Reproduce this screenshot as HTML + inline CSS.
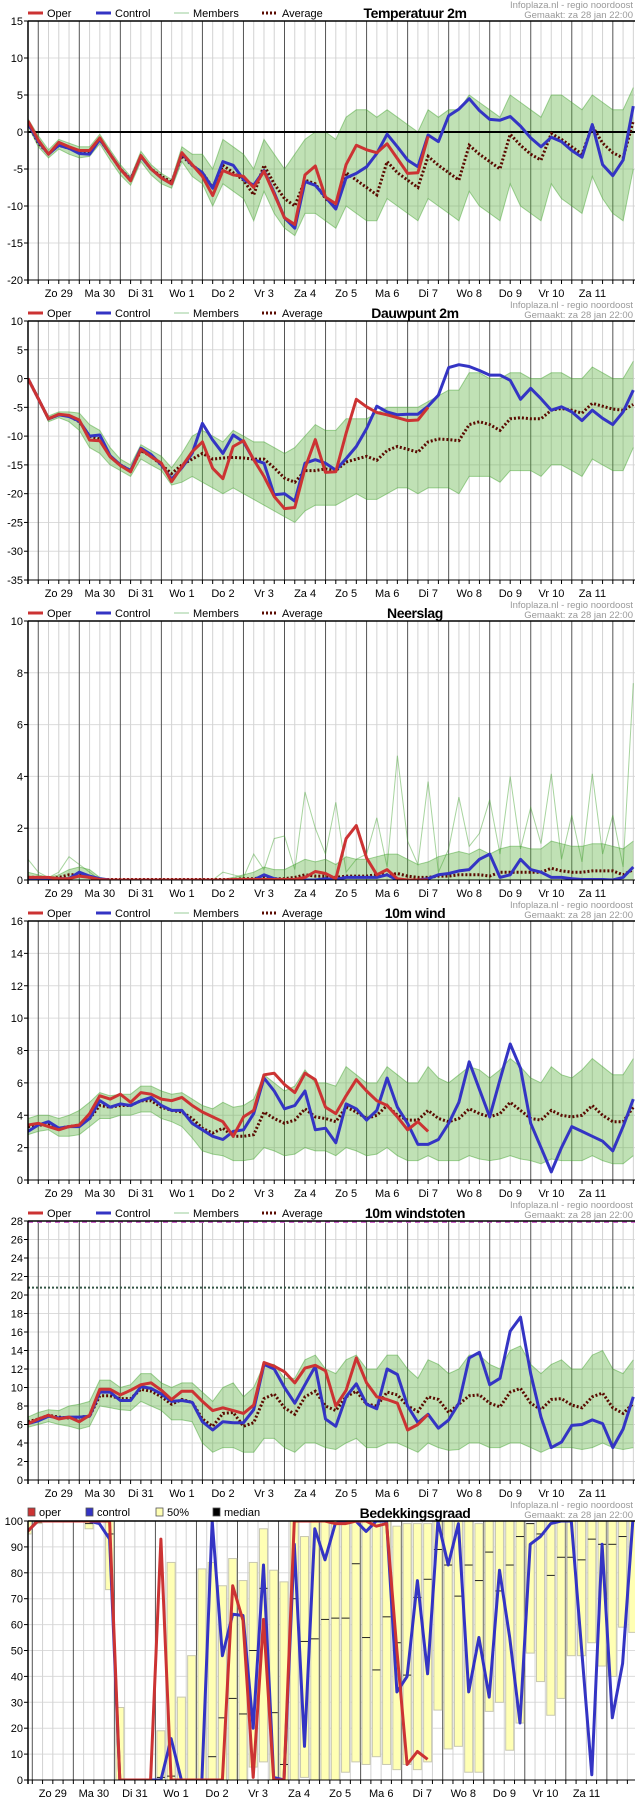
<!DOCTYPE html>
<html><head><meta charset="utf-8"><title>Ensemble pluim</title>
<style>
html,body{margin:0;padding:0;background:#fff;}
svg{display:block;font-family:"Liberation Sans",sans-serif;}
</style></head>
<body>
<svg id="chart" xmlns="http://www.w3.org/2000/svg" width="635" height="1800" viewBox="0 0 635 1800"></svg>
<script>
// ---------- data ----------
const dayLabels = ["Zo 29","Ma 30","Di 31","Wo 1","Do 2","Vr 3","Za 4","Zo 5","Ma 6","Di 7","Wo 8","Do 9","Vr 10","Za 11"];

const tempTicks = [15,10,5,0,-5,-10,-15,-20];
const tempOper = [1.5,-1.1,-3,-1.4,-2,-2.5,-2.5,-0.8,-3,-5,-6.6,-3.2,-5,-6.2,-7,-2.8,-4.4,-6,-8.6,-5.2,-5.8,-6,-7.5,-5.3,-8.4,-11.6,-12.5,-5.8,-4.6,-8.8,-9.7,-4.4,-1.8,-2.4,-2.8,-1.6,-3.6,-5.6,-5.5,-0.6];
const tempControl = [1.2,-1.3,-3,-1.8,-2.2,-2.9,-3,-1,-3,-5,-6.5,-3.3,-5,-6.2,-7,-2.9,-4.5,-5.5,-7.6,-4,-4.5,-6.4,-7.2,-5.2,-8.2,-11.6,-13,-6.7,-7.2,-8.8,-10.4,-6.2,-5.6,-4.7,-2.9,-0.3,-2,-3.8,-4.7,-0.4,-1.3,2.2,3.1,4.5,2.9,1.7,1.6,2.1,0.8,-0.8,-2,-0.7,-1.3,-2.5,-3.4,1,-4.4,-5.9,-3.8,3.5];
const tempAverage = [1.2,-1.5,-2.9,-1.8,-2.2,-2.6,-2.7,-1,-3,-5,-6.4,-3.3,-5,-6,-6.8,-3.2,-4.5,-5.5,-7.5,-4.5,-5.5,-6.5,-8.5,-4.5,-7,-9,-10,-6.5,-7,-9,-10,-5.5,-6.5,-7.5,-8.5,-4,-5.5,-6.5,-7.5,-3.3,-4.5,-5.5,-6.5,-1.8,-3,-4,-5,-0.3,-1.8,-3,-3.8,-0.2,-1,-2,-3,0.8,-1.5,-2.8,-3.5,1.5];
const tempLow = [0.8,-2,-3.5,-2.3,-3,-3.5,-3.3,-1.6,-3.8,-5.8,-7.2,-4,-5.8,-7,-7.6,-4,-6,-7,-10,-7,-8,-9,-12,-8,-11,-13,-14,-11,-11,-12,-13,-10,-11,-12,-12,-9,-10,-11,-12,-9,-10,-11,-12,-8,-10,-11,-12,-7,-10,-11,-12,-7,-9,-10,-11,-6,-9,-11,-12,-5];
const tempHigh = [1.8,-0.5,-2.4,-1,-1.5,-2,-2,-0.3,-2.4,-4.4,-6,-2.6,-4.4,-5.6,-6.4,-2,-3,-3,-5,-1,-2,-3,-5,-1,-3,-5,-3,-1,0,0,-1,2,3,3,2,3,2,1,0,3,2,3,3,5,4,3,2,5,4,3,2,5,5,4,3,5,4,3,3,6];

const dewTicks = [10,5,0,-5,-10,-15,-20,-25,-30,-35];
const dewOper = [0,-3.5,-7,-6.2,-6.4,-7.2,-10.7,-10.8,-13.6,-15.1,-16.2,-12.3,-13.6,-14.7,-17.9,-15.3,-12.7,-11,-15.6,-17.4,-11.8,-10.8,-14.1,-17,-20.5,-22.6,-22.4,-15.6,-10.6,-16.3,-16.2,-9.5,-3.6,-4.9,-5.9,-6.3,-6.8,-7.3,-7.2,-5];
const dewControl = [0,-3.5,-7,-6.3,-6.6,-7.4,-10,-9.8,-13.4,-15,-16,-12.1,-13.2,-15,-17.5,-15.5,-13,-7.8,-10.7,-13,-9.8,-11,-14.1,-14.7,-20.2,-20,-21.3,-14.7,-14.1,-14.7,-15.9,-13.9,-11.8,-8.7,-4.8,-5.8,-6.3,-6.2,-6.2,-4.8,-2.9,1.9,2.4,2.1,1.4,0.6,0.6,-0.3,-3.6,-1.7,-3.5,-5.5,-4.9,-5.8,-7.3,-5.5,-6.9,-8,-5.8,-2];
const dewAverage = [0,-3.5,-7,-6.3,-6.5,-7.5,-10,-10.5,-13.5,-15,-16,-12.5,-13.5,-15,-16.5,-15,-14,-13,-14,-13.8,-13.7,-13.8,-14,-14,-15.5,-17.3,-18,-16,-16,-15.7,-16,-14.5,-14,-13.5,-14.2,-12.5,-11.8,-12.3,-12.8,-11,-10.5,-10.6,-10.8,-8,-7.5,-8,-9,-7,-6.8,-7,-7,-5.5,-5.2,-5.5,-6,-4.3,-4.8,-5.3,-5.5,-4.5];
const dewLow = [0,-3.8,-7.5,-6.8,-7.5,-9,-12,-13,-15,-16,-17,-14,-15,-16,-18.5,-18,-17,-18,-19,-20,-19,-20,-21,-22,-23,-24,-25,-23,-22,-22,-22,-21,-20,-21,-21,-20,-19,-19,-20,-19,-19,-19,-20,-17,-17,-17,-18,-16,-16,-16,-17,-15,-15,-16,-17,-14,-15,-16,-16,-12];
const dewHigh = [0,-3.2,-6.5,-5.8,-5.8,-6,-8,-9,-12,-14,-15,-11.5,-12.5,-13.5,-15.5,-13,-10,-9,-10,-11,-9,-10,-11,-11,-12,-13,-12,-10,-8,-9,-9,-7,-7,-7,-6,-5,-5,-5,-5,-4,-3,-2,-2,1,1,0,0,1,1,0,0,1,1,0,0,2,1,0,0,3];

const rainTicks = [10,8,6,4,2,0];
const rainOper = [0.1,0.1,0.1,0.05,0.05,0.15,0.1,0.02,0,0,0,0,0,0,0,0,0,0,0,0,0.02,0.02,0.02,0.02,0.02,0.02,0.02,0.1,0.33,0.25,0.05,1.6,2.1,0.85,0.2,0.4,0.05,0,0,0];
const rainControl = [0.05,0.05,0,0.05,0.05,0.3,0.15,0.05,0,0,0,0,0,0,0,0,0,0,0,0,0,0,0,0.2,0.05,0,0,0,0,0.05,0.02,0.1,0.1,0.1,0.1,0.2,0,0,0,0.05,0.2,0.25,0.35,0.4,0.8,1.0,0.1,0.2,0.8,0.4,0.3,0.1,0.1,0.05,0.02,0.02,0.02,0,0.1,0.5];
const rainAverage = [0.1,0.1,0.05,0.1,0.2,0.2,0.1,0.02,0.02,0.02,0.02,0.02,0.02,0.02,0.02,0.02,0.02,0.02,0.02,0.02,0.02,0.05,0.05,0.1,0.05,0.05,0.1,0.2,0.15,0.15,0.1,0.15,0.15,0.15,0.2,0.2,0.25,0.15,0.1,0.1,0.15,0.15,0.2,0.2,0.2,0.15,0.3,0.3,0.3,0.3,0.3,0.45,0.35,0.3,0.3,0.35,0.35,0.35,0.2,0.4];
const rainLow = [0,0,0,0,0,0,0,0,0,0,0,0,0,0,0,0,0,0,0,0,0,0,0,0,0,0,0,0,0,0,0,0,0,0,0,0,0,0,0,0,0,0,0,0,0,0,0,0,0,0,0,0,0,0,0,0,0,0,0,0];
const rainHigh = [0.3,0.2,0.1,0.2,0.4,0.5,0.4,0.1,0.02,0.02,0.02,0.02,0.02,0.02,0.02,0.02,0.02,0.02,0.02,0.02,0.1,0.2,0.3,0.5,0.4,0.4,0.6,0.8,0.7,0.8,0.6,0.9,0.8,0.8,0.9,1.0,1.0,0.8,0.6,0.7,0.9,1.0,1.1,1.0,1.2,1.0,1.2,1.3,1.3,1.2,1.2,1.5,1.4,1.3,1.3,1.4,1.4,1.3,1.2,1.5];
const rainMemberA = [0.8,0.3,0.1,0.3,0.9,0.6,0.3,0,0,0,0,0,0,0,0,0,0,0,0,0.3,0.2,0.1,1.0,0.4,1.6,1.7,0.4,3.4,2.0,1.0,3.0,0.3,0.8,1.0,2.4,0.5,4.8,1.5,0.6,3.8,0.3,1.2,3.2,1.3,1.8,3.1,1.0,4.0,1.2,2.8,1.4,4.1,0.8,2.5,0.7,4.1,1.0,2.5,0.5,7.6];

const windTicks = [16,14,12,10,8,6,4,2,0];
const windOper = [3.4,3.5,3.3,3.1,3.3,3.4,4.1,5.2,5,5.3,4.8,5.4,5.3,5,4.9,5.1,4.6,4.2,3.9,3.6,2.7,3.9,4.3,6.5,6.6,5.9,5.4,6.6,6.2,4.5,4.1,5.2,6.2,5.5,4.9,4.6,3.9,3.1,3.6,3];
const windControl = [3.0,3.4,3.6,3.2,3.3,3.3,3.8,4.9,4.5,4.7,4.6,4.9,5.1,4.6,4.3,4.3,3.5,3.1,2.7,2.5,3.0,3.1,4.1,6.3,5.5,4.4,4.6,5.5,3.1,3.2,2.3,4.7,4.4,3.7,4.3,6.3,4.5,3.5,2.2,2.2,2.5,3.5,4.8,7.3,5.6,3.9,6.2,8.4,6.9,3.5,2,0.5,2,3.3,3,2.7,2.4,1.8,3.3,5];
const windAverage = [3.3,3.4,3.4,3.2,3.3,3.4,3.8,4.6,4.5,4.6,4.6,4.9,4.9,4.5,4.3,4.2,3.8,3.2,2.9,3.2,2.7,2.7,2.8,4.2,3.8,3.5,3.7,4.4,3.9,3.8,3.6,4.5,4.2,3.8,4,4.6,4,3.7,3.7,4.3,3.8,3.6,3.8,4.4,4.1,3.9,4.1,4.8,4.3,3.8,3.7,4.3,4,3.9,4,4.6,4,3.6,3.6,4.5];
const windLow = [2.8,3,3.1,2.7,2.7,2.8,3.3,3.8,3.8,4,4,4.2,4.2,3.8,3.6,3.3,2.6,1.8,1.6,1.5,1.2,1.2,1.3,2,1.8,1.5,1.6,2,1.8,1.8,1.5,2,1.8,1.5,1.6,2,1.5,1.2,1.2,1.5,1.2,1.2,1.2,1.5,1.3,1.2,1.3,1.5,1.3,1.2,1,1.3,1.2,1.2,1.2,1.5,1.2,1,1,1.5];
const windHigh = [3.8,4,4,3.8,4,4.3,4.8,5.4,5.2,5.3,5.3,5.8,5.8,5.5,5.3,5.4,5,4.6,4.4,4.8,4.5,4.6,5,6.5,6,5.5,5.8,6.8,6,6,5.8,7,6.5,6,6,7,6.5,6,6,7,6.3,6,6.5,7,6.8,6.3,6.8,7.5,7,6.3,6,7,6.5,6.3,6.8,7.5,7,6.5,6.5,7.5];

const gustTicks = [28,26,24,22,20,18,16,14,12,10,8,6,4,2,0];
const gustOper = [6.1,6.6,7,6.6,6.8,6.3,7,9.8,9.8,9.2,9.7,10.3,10.5,9.7,8.7,9.6,9.6,8.5,7.5,7.8,7.5,7.2,8.1,12.7,12.3,11.7,10.5,12.1,12.4,11.8,8,9.7,13.2,10.5,9,8.7,8.3,5.4,6,7.1];
const gustControl = [6.1,6.4,6.9,6.7,6.8,6.8,6.9,9.5,9.5,8.6,8.6,10.1,9.9,9.3,8.5,8.6,8.4,6.3,5.4,6.3,6.2,6.2,7.6,12.5,12,10,8.3,10.3,12.3,6.6,5.8,9,10.4,8.2,7.7,12,11.4,8,6.2,7.1,5.6,6.5,8.3,13.2,13.8,10.3,11,16.1,17.6,11.5,6.8,3.5,4.1,5.9,6,6.5,6.1,3.5,5.5,9];
const gustAverage = [6.3,6.6,7,6.8,6.7,6.8,6.9,9.1,9.1,8.8,8.8,9.8,9.6,9,8.2,8.7,8.4,6.6,5.8,7.2,7.3,5.8,6.2,8.8,9.3,7.8,7.1,9,9.6,8,7.5,9,9.6,8.2,8,9.5,9.2,8,7.4,9,8.7,7.3,8.2,9.1,9.2,8.3,7.9,9.5,9.9,8.3,7.6,8.7,8.8,8.1,7.8,9,9.4,7.8,7.2,8.3];
const gustLow = [5.7,6,6.3,6,5.8,5.5,5.8,8,7.8,7.6,7.5,8.5,8,7.5,6.5,6.5,6.3,4,3,3.5,3.5,3,3,4.5,4.5,3.5,3,4,4,3.5,3.3,4,4.5,3.5,3.5,4,4,3.5,3,4,3.5,3.2,3.3,4,4,3.5,3.5,4,4,3.5,3,3.5,3.5,3.5,3.3,3.5,4,3.5,3.3,3.5];
const gustHigh = [6.8,7.3,7.6,7.5,8,8.2,8.5,10.8,10.8,10,10.3,11.5,11.5,10.5,10,10.5,10.5,9.5,8.5,10,10.5,9,10,12.5,12.5,11,11,13,13.5,12,11.5,13,13.5,12,12,13.5,13.5,12,11,13,12.5,11.5,12,13.5,13.5,12.5,12,14,14.5,12.5,11.5,12.5,13,12,12,13.5,14,12,11.5,13];
const gustThresholds = [28,20.8];

const cloudTicks = [100,90,80,70,60,50,40,30,20,10,0];
const cloudOper = [96,100,100,100,100,100,100,100,100,0,0,0,0,93,0,0,0,0,0,0,75,61.6,1,62,0,0,100,100,100,100,99,99,100,100,98,99,50,6,11,8];
const cloudControl = [96,100,100,100,100,100,100,99,93,0,0,0,0,0,16,0,0,0,100,48,64,63.5,20,83,1,0,91,13,97,85,99,100,100,96,100,100,34,40,77,41,100,83,99,34,55,32,81,55,22,91,94,99,100,100,51,2,91,24,45,100];
const cloudP25 = [95,99,100,100,100,100,97,100,73.5,0,0,0,0,0,0,0,0,0,0,0,0,0,5,7,0,0,0,1,0,0,0,3,7,6,9,6,4,6,4,7,27,12,13,3,3,26.5,30,11.5,22,49,38,25,31.5,48,48,53,44,40,59,57];
const cloudP75 = [100,100,100,100,100,100,100,100,100,28,0,0,0,19,84,32,48,81.5,84,75,85.5,77,84,97,81,76.5,100,94,100,100,100,100,100,100,100,100,98,99,99,99,100,100,100,100,99,100,100,100,100,99,100,100,100,100,100,100,100,100,100,100];
const cloudMedian = [97,99.5,100,100,100,100,99,100,95,0,0,0,0,1,1.5,0,0,0,9,24,31.5,25.5,50,74,26,6,70,53.5,54.5,62,62.5,62.5,83.5,55,42.5,63,53,40.5,70.5,77.5,89,83,71,83,77,88,73,83,94,99,95,79,86,86,85,93,91,91,94,100];

// ---------- drawing ----------
const NS = "http://www.w3.org/2000/svg";
const svg = document.getElementById('chart');
const PL = 28, PR = 635, STEP = 10.26, DAY = 41.05;

function mk(tag, attrs, parent) {
  const e = document.createElementNS(NS, tag);
  for (const k in attrs) e.setAttribute(k, attrs[k]);
  (parent || svg).appendChild(e);
  return e;
}
function txt(s, attrs, parent) { const e = mk('text', attrs, parent); e.textContent = s; return e; }

function drawPanel(p, cfg) {
  const top = p * 300, y0 = top + 21, y1 = top + 280;
  const g = mk('g', {});
  
  
  const xOff = cfg.xOff || 0;
  const X = t => PL + xOff + STEP * t;
  const Y = v => y1 - (v - cfg.min) / (cfg.max - cfg.min) * (y1 - y0);
  const clipId = 'clip' + p;
  const cp = mk('clipPath', { id: clipId }, g);
  mk('rect', { x: PL, y: y0, width: PR - PL, height: y1 - y0 }, cp);

  // horizontal grid
  cfg.ticks.forEach(v => {
    mk('line', { x1: PL, x2: PR, y1: Y(v), y2: Y(v), stroke: '#dcdcdc', 'stroke-width': 1 }, g);
  });
  // vertical 6h grid and day lines
  const firstDay = PL + xOff + (cfg.dayStart || STEP);
  for (let x = firstDay - STEP * 4; x < PR; x += STEP) {
    if (x <= PL) continue;
    const k = Math.round((x - firstDay) / STEP);
    const isDay = ((k % 4) + 4) % 4 === 0;
    mk('line', { x1: x, x2: x, y1: y0, y2: y1, stroke: isDay ? '#555' : '#d2d2d2', 'stroke-width': 1 }, g);
    mk('line', { x1: x, x2: x, y1: y1, y2: y1 + 4, stroke: '#000', 'stroke-width': 1 }, g);
  }
  // y ticks
  cfg.ticks.forEach(v => {
    mk('line', { x1: PL - 4, x2: PL, y1: Y(v), y2: Y(v), stroke: '#000' }, g);
    const l = txt(String(v), { x: PL - 5, y: Y(v) + 4, 'text-anchor': 'end', 'font-size': 11, fill: '#000' }, g);
    
    
  });
  // x labels
  dayLabels.forEach((d, k) => {
    const l = txt(d, { x: firstDay + DAY * k + DAY / 2, y: top + 297, 'text-anchor': 'middle', 'font-size': 11, fill: '#000' }, g);
    
    
  });

  const plot = mk('g', { 'clip-path': 'url(#' + clipId + ')' }, g);
  
  
  const pathOf = arr => arr.map((v, i) => (i ? 'L' : 'M') + X(i).toFixed(1) + ' ' + Y(v).toFixed(1)).join(' ');

  if (cfg.bars) {
    cfg.bars.p25.forEach((lo, i) => {
      const hi = cfg.bars.p75[i];
      if (hi - lo <= 0.01) return;
      const r = mk('rect', { x: X(i) - 4, y: Y(hi), width: 8, height: Y(lo) - Y(hi), fill: '#ffffb4', stroke: '#c8c8b0', 'stroke-width': 1 }, plot);
      
      
    });
    cfg.bars.median.forEach((m, i) => {
      if (cfg.bars.p75[i] - cfg.bars.p25[i] <= 0.01) return;
      const r = mk('line', { x1: X(i) - 4, x2: X(i) + 4, y1: Y(m), y2: Y(m), stroke: '#222', 'stroke-width': 1 }, plot);
      
      
    });
  } else {
    // ensemble spread band
    const band = pathOf(cfg.high) + ' ' + cfg.low.slice().reverse().map((v, j) => {
      const i = cfg.low.length - 1 - j; return 'L' + X(i).toFixed(1) + ' ' + Y(v).toFixed(1);
    }).join(' ') + ' Z';
    const b = mk('path', { d: band, fill: 'rgba(90,175,60,0.38)', stroke: 'none' }, plot);
    
    
    [cfg.high, cfg.low].concat(cfg.extra || []).forEach(arr => {
      const m = mk('path', { d: pathOf(arr), fill: 'none', stroke: 'rgba(60,160,40,0.45)', 'stroke-width': 1 }, plot);
      
      
    });
  }
  if (cfg.zero) {
    const z = mk('line', { x1: PL, x2: PR, y1: Y(0), y2: Y(0), stroke: '#000', 'stroke-width': 2 }, plot);
    
    
  }
  (cfg.thresholds || []).forEach((v, k) => {
    const tl = mk('line', { x1: PL, x2: PR, y1: Y(v) + (k === 0 ? 1 : 0), y2: Y(v) + (k === 0 ? 1 : 0), stroke: k === 0 ? '#cc66cc' : '#335544', 'stroke-width': 2, 'stroke-dasharray': k === 0 ? '5,4' : '2,2' }, plot);
    
    
  });
  if (cfg.average) {
    const a = mk('path', { d: pathOf(cfg.average), fill: 'none', stroke: '#5a0a00', 'stroke-width': 3, 'stroke-dasharray': '2,2' }, plot);
    
    
  }
  const c = mk('path', { d: pathOf(cfg.control), fill: 'none', stroke: '#3434c4', 'stroke-width': 3, 'stroke-linejoin': 'round' }, plot);
  
  
  const o = mk('path', { d: pathOf(cfg.oper), fill: 'none', stroke: '#cc3333', 'stroke-width': 3, 'stroke-linejoin': 'round' }, plot);
  
  

  // axes frame
  mk('line', { x1: PL, x2: PR, y1: y0, y2: y0, stroke: '#000', 'stroke-width': 1.5 }, g);
  mk('line', { x1: PL, x2: PL, y1: y0, y2: y1 + 4, stroke: '#000', 'stroke-width': 1.5 }, g);
  mk('line', { x1: PL, x2: PR, y1: y1, y2: y1, stroke: '#000', 'stroke-width': 1 }, g);

  // legend
  const lg = mk('g', {}, g);
  
  
  const ly = top + 17;
  if (cfg.bars) {
    const items = [['oper', '#cc3333', 28], ['control', '#3434c4', 86], ['50%', '#ffffb4', 156], ['median', '#000', 213]];
    items.forEach(([lab, col, x]) => {
      const e = mk('rect', { x: x, y: ly - 9, width: 7, height: 8, fill: col, stroke: '#555', 'stroke-width': 0.8 }, lg);
      
      
      txt(lab, { x: x + 11, y: ly - 1, 'font-size': 11 }, lg);
    });
  } else {
    mk('line', { x1: 28, x2: 43, y1: ly - 4, y2: ly - 4, stroke: '#cc3333', 'stroke-width': 3 }, lg);
    txt('Oper', { x: 47, y: ly, 'font-size': 11 }, lg);
    mk('line', { x1: 96, x2: 111, y1: ly - 4, y2: ly - 4, stroke: '#3434c4', 'stroke-width': 3 }, lg);
    txt('Control', { x: 115, y: ly, 'font-size': 11 }, lg);
    mk('line', { x1: 174, x2: 189, y1: ly - 4, y2: ly - 4, stroke: '#9c9', 'stroke-width': 1 }, lg);
    txt('Members', { x: 193, y: ly, 'font-size': 11 }, lg);
    mk('line', { x1: 262, x2: 277, y1: ly - 4, y2: ly - 4, stroke: '#5a0a00', 'stroke-width': 3, 'stroke-dasharray': '2,2' }, lg);
    txt('Average', { x: 282, y: ly, 'font-size': 11 }, lg);
  }
  const tt = txt(cfg.title, { x: 415, y: top + 18, 'text-anchor': 'middle', 'font-size': 14, 'font-weight': 'bold', 'letter-spacing': '-0.4' }, g);
  
  
  const s1 = txt('Infoplaza.nl - regio noordoost', { x: 633, y: top + 8, 'text-anchor': 'end', 'font-size': 9.5, fill: '#999' }, g);
  
  
  const s2 = txt('Gemaakt: za 28 jan 22:00', { x: 633, y: top + 18, 'text-anchor': 'end', 'font-size': 9.5, fill: '#999' }, g);
  
  
}

drawPanel(0, { name: 'temperature', title: 'Temperatuur 2m', min: -20, max: 15, ticks: tempTicks, oper: tempOper, control: tempControl, average: tempAverage, low: tempLow, high: tempHigh, zero: true });
drawPanel(1, { name: 'dewpoint', title: 'Dauwpunt 2m', min: -35, max: 10, ticks: dewTicks, oper: dewOper, control: dewControl, average: dewAverage, low: dewLow, high: dewHigh });
drawPanel(2, { name: 'precipitation', title: 'Neerslag', min: 0, max: 10, ticks: rainTicks, oper: rainOper, control: rainControl, average: rainAverage, low: rainLow, high: rainHigh, extra: [rainMemberA] });
drawPanel(3, { name: 'wind', title: '10m wind', min: 0, max: 16, ticks: windTicks, oper: windOper, control: windControl, average: windAverage, low: windLow, high: windHigh });
drawPanel(4, { name: 'gusts', title: '10m windstoten', min: 0, max: 28, ticks: gustTicks, oper: gustOper, control: gustControl, average: gustAverage, low: gustLow, high: gustHigh, thresholds: gustThresholds });
drawPanel(5, { name: 'cloud-cover', title: 'Bedekkingsgraad', min: 0, max: 100, ticks: cloudTicks, oper: cloudOper, control: cloudControl, xOff: -0.5, dayStart: 4.8, bars: { p25: cloudP25, p75: cloudP75, median: cloudMedian } });
</script>
</body></html>
